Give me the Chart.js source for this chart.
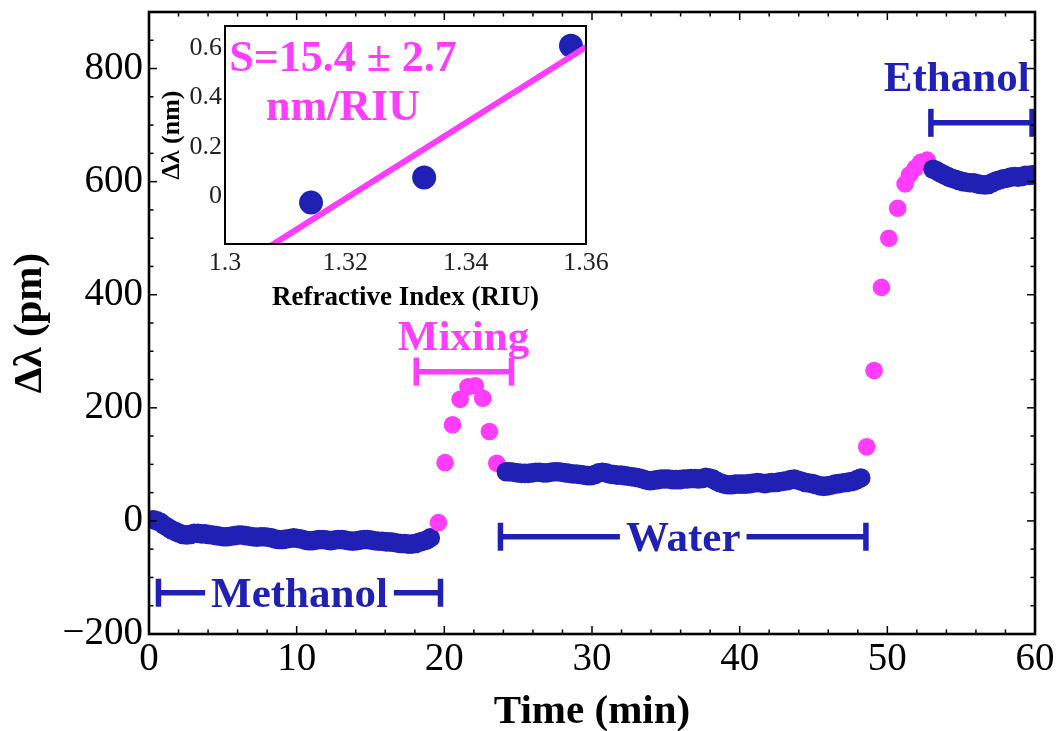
<!DOCTYPE html>
<html>
<head>
<meta charset="utf-8">
<script src="https://cdn.jsdelivr.net/npm/chart.js@4.4.1/dist/chart.umd.min.js"></script>
<style>
  html, body { margin: 0; padding: 0; background: #fff; }
  #wrap { position: relative; width: 1057px; height: 731px; }
  #main { position: absolute; left: 0; top: 0; }
  #inset { position: absolute; left: 150px; top: 14px; }
</style>
</head>
<body>
<div id="wrap">
  <canvas id="main" width="1057" height="731"></canvas>
  <canvas id="inset" width="470" height="300"></canvas>
</div>
<script>
// ---- Resonance shift vs. time (pm) ----
const methanolTime = [0.3, 0.55, 0.8, 1.05, 1.3, 1.55, 1.8, 2.05, 2.3, 2.55, 2.8, 3.05, 3.3, 3.55, 3.8, 4.05, 4.3, 4.55,
  4.8, 5.05, 5.3, 5.55, 5.8, 6.05, 6.3, 6.55, 6.8, 7.05, 7.3, 7.55, 7.8, 8.05, 8.3, 8.55, 8.8, 9.05, 9.3, 9.55, 9.8,
  10.05, 10.3, 10.55, 10.8, 11.05, 11.3, 11.55, 11.8, 12.05, 12.3, 12.55, 12.8, 13.05, 13.3, 13.55, 13.8, 14.05, 14.3,
  14.55, 14.8, 15.05, 15.3, 15.55, 15.8, 16.05, 16.3, 16.55, 16.8, 17.05, 17.3, 17.55, 17.8, 18.05, 18.3, 18.55, 18.8,
  19.05];
const methanolShift = [2, 0, -3, -8, -12, -16, -19, -22, -24, -25, -24, -22, -22, -23, -23, -24, -25, -26,
  -27, -28, -28, -27, -26, -25, -25, -26, -27, -28, -29, -28, -28, -29, -30, -32, -33, -33, -32, -31, -30,
  -31, -32, -34, -35, -35, -34, -33, -33, -34, -35, -34, -33, -33, -34, -35, -36, -35, -34,
  -33, -33, -34, -35, -36, -36, -37, -37, -38, -39, -40, -40, -41, -41, -40, -38, -36, -34,
  -30];

const mixingTime = [19.6, 20.05, 20.55, 21.07, 21.6, 22.1, 22.6, 23.05, 23.55];
const mixingShift = [-3, 103, 170, 215, 237, 239, 217, 158, 102];

const waterTime = [24.2, 24.45, 24.7, 24.95, 25.2, 25.45, 25.7, 25.95, 26.2, 26.45, 26.7, 26.95, 27.2, 27.45, 27.7,
  27.95, 28.2, 28.45, 28.7, 28.95, 29.2, 29.45, 29.7, 29.95, 30.2, 30.45, 30.7, 30.95, 31.2, 31.45, 31.7, 31.95, 32.2,
  32.45, 32.7, 32.95, 33.2, 33.45, 33.7, 33.95, 34.2, 34.45, 34.7, 34.95, 35.2, 35.45, 35.7, 35.95, 36.2, 36.45, 36.7,
  36.95, 37.2, 37.45, 37.7, 37.95, 38.2, 38.45, 38.7, 38.95, 39.2, 39.45, 39.7, 39.95, 40.2, 40.45, 40.7, 40.95, 41.2,
  41.45, 41.7, 41.95, 42.2, 42.45, 42.7, 42.95, 43.2, 43.45, 43.7, 43.95, 44.2, 44.45, 44.7, 44.95, 45.2, 45.45, 45.7,
  45.95, 46.2, 46.45, 46.7, 46.95, 47.2, 47.45, 47.7, 47.95, 48.2];
const waterShift = [87, 87, 86, 85, 84, 84, 84, 85, 86, 86, 85, 85, 86, 87, 87,
  86, 85, 84, 83, 83, 82, 81, 80, 80, 82, 85, 86, 85, 83, 82, 81, 81, 80,
  79, 78, 77, 76, 74, 72, 71, 72, 73, 74, 74, 74, 73, 73, 73, 74, 74, 75,
  75, 74, 75, 77, 76, 74, 70, 67, 65, 64, 64, 65, 65, 65, 65, 66, 67, 68,
  67, 66, 67, 68, 68, 69, 70, 71, 73, 74, 72, 70, 68, 67, 66, 64, 62, 61,
  62, 63, 65, 66, 67, 68, 69, 70, 73, 76];

const riseTime = [48.6, 49.1, 49.6, 50.1, 50.7, 51.2, 51.5, 51.9, 52.25, 52.7];
const riseShift = [131, 266, 413, 500, 553, 596, 612, 624, 634, 638];

const ethanolTime = [53.1, 53.35, 53.6, 53.85, 54.1, 54.35, 54.6, 54.85, 55.1, 55.35, 55.6, 55.85, 56.1, 56.35, 56.6,
  56.85, 57.1, 57.35, 57.6, 57.85, 58.1, 58.35, 58.6, 58.85, 59.1, 59.35, 59.6, 59.85, 60.0];
const ethanolShift = [622, 619, 615, 612, 609, 606, 604, 602, 600, 599, 598, 598, 596, 595, 594,
  595, 598, 601, 603, 605, 606, 608, 609, 608, 609, 611, 611, 612, 612];

const timeTicks = [0, 10, 20, 30, 40, 50, 60];
const shiftTicks = [-200, 0, 200, 400, 600, 800];
const shiftTickLabels = ['\u2212200', '0', '200', '400', '600', '800'];

// solvent phases (minutes)
const phaseNames = ['Methanol', 'Mixing', 'Water', 'Ethanol'];
const phaseStart = [0.64, 18.1, 23.8, 52.95];
const phaseEnd = [19.74, 24.55, 48.55, 59.8];

// ---- Calibration inset ----
const riuValues = [1.3143, 1.3331, 1.3575];
const riuShift = [-0.027, 0.075, 0.61];
const fitSlope = 15.4;
const fitSlopeError = 2.7;
const riuTicks = [1.3, 1.32, 1.34, 1.36];
const riuTickLabels = ['1.3', '1.32', '1.34', '1.36'];
const nmTicks = [0, 0.2, 0.4, 0.6];
const nmTickLabels = ['0', '0.2', '0.4', '0.6'];

const NAVY = '#2020b4';
const MAGENTA = '#ff3cff';
const SERIF = '"Liberation Serif", "Times New Roman", serif';

const pairs = (xs, ys) => xs.map((x, i) => ({ x, y: ys[i] }));

// placement of the phase brackets and their captions
const phaseLayout = [
  { level: -127, inline: true, color: NAVY },
  { level: 264, inline: false, labelTime: 21.3, labelLevel: 303, color: MAGENTA },
  { level: -28, inline: true, color: NAVY },
  { level: 704, inline: false, labelTime: 54.7, labelLevel: 760, color: NAVY }
];

const frameTicks = {
  id: 'frameTicks',
  afterDraw(chart) {
    const { ctx, chartArea: a, scales: { x, y } } = chart;
    const seg = (x0, y0, x1, y1) => { ctx.beginPath(); ctx.moveTo(x0, y0); ctx.lineTo(x1, y1); ctx.stroke(); };
    ctx.save();
    ctx.strokeStyle = '#000';
    ctx.lineWidth = 1.5;
    for (let i = 0; i <= 30; i++) {
      const t = i * 2;
      const px = x.getPixelForValue(t);
      const len = (t % 10 === 0) ? 8 : 4.5;
      seg(px, a.bottom, px, a.bottom - len);
      seg(px, a.top, px, a.top + len);
    }
    for (let i = 0; i <= 22; i++) {
      const v = -200 + i * 50;
      const py = y.getPixelForValue(v);
      const len = (v % 200 === 0) ? 8 : 4.5;
      seg(a.left, py, a.left + len, py);
      seg(a.right, py, a.right - len, py);
    }
    ctx.lineWidth = 2.6;
    ctx.strokeRect(a.left, a.top, a.width, a.height);
    ctx.restore();
  }
};

const phaseMarkers = {
  id: 'phaseMarkers',
  afterDatasetsDraw(chart) {
    const { ctx, scales: { x, y } } = chart;
    const seg = (x0, y0, x1, y1) => { ctx.beginPath(); ctx.moveTo(x0, y0); ctx.lineTo(x1, y1); ctx.stroke(); };
    ctx.save();
    ctx.font = `bold 43px ${SERIF}`;
    ctx.lineCap = 'butt';
    phaseNames.forEach((name, i) => {
      const st = phaseLayout[i];
      const x0 = x.getPixelForValue(phaseStart[i]);
      const x1 = x.getPixelForValue(phaseEnd[i]);
      const yy = y.getPixelForValue(st.level);
      ctx.strokeStyle = st.color;
      ctx.fillStyle = st.color;
      ctx.lineWidth = 5.5;
      seg(x0, yy - 14, x0, yy + 14);
      seg(x1, yy - 14, x1, yy + 14);
      ctx.textAlign = 'center';
      ctx.textBaseline = 'alphabetic';
      if (st.inline) {
        const w = ctx.measureText(name).width;
        const cx = (x0 + x1) / 2;
        seg(x0, yy, cx - w / 2 - 6, yy);
        seg(cx + w / 2 + 6, yy, x1, yy);
        ctx.fillText(name, cx, yy + 14);
      } else {
        seg(x0, yy, x1, yy);
        ctx.fillText(name, x.getPixelForValue(st.labelTime), y.getPixelForValue(st.labelLevel));
      }
    });
    ctx.restore();
  }
};

const dot = (data, color, radius, order) => ({
  data, backgroundColor: color, borderWidth: 0, pointRadius: radius, pointHoverRadius: radius, order
});

new Chart(document.getElementById('main'), {
  type: 'scatter',
  data: {
    datasets: [
      dot(pairs(methanolTime, methanolShift), NAVY, 9.8, 5),
      dot(pairs(mixingTime, mixingShift), MAGENTA, 8.8, 4),
      dot(pairs(waterTime, waterShift), NAVY, 9.8, 3),
      dot(pairs(riseTime, riseShift), MAGENTA, 8.8, 2),
      dot(pairs(ethanolTime, ethanolShift), NAVY, 9.8, 1)
    ]
  },
  options: {
    responsive: false,
    animation: false,
    devicePixelRatio: 1,
    layout: { padding: { top: 12, right: 22, left: 0, bottom: 0 } },
    plugins: { legend: { display: false }, tooltip: { enabled: false } },
    scales: {
      x: {
        type: 'linear', min: 0, max: 60,
        afterBuildTicks: s => { s.ticks = timeTicks.map(v => ({ value: v })); },
        afterFit: s => { s.height = 97; s.paddingLeft = 0; s.paddingRight = 0; },
        grid: { display: false, drawTicks: false },
        border: { display: false },
        ticks: {
          color: '#000', padding: 2, maxRotation: 0, autoSkip: false,
          font: { family: SERIF, size: 39, lineHeight: 1.2 },
          callback: v => String(v)
        },
        title: {
          display: true, text: 'Time (min)', color: '#000',
          font: { family: SERIF, size: 41, weight: 'bold', lineHeight: 0.9 },
          padding: { top: 0, bottom: 0 }
        }
      },
      y: {
        type: 'linear', min: -200, max: 900,
        afterBuildTicks: s => { s.ticks = shiftTicks.map(v => ({ value: v })); },
        afterFit: s => { s.width = 149; s.paddingTop = 0; s.paddingBottom = 0; },
        grid: { display: false, drawTicks: false },
        border: { display: false },
        ticks: {
          color: '#000', padding: 6, autoSkip: false,
          font: { family: SERIF, size: 39, lineHeight: 1.2 },
          callback: v => shiftTickLabels[shiftTicks.indexOf(v)]
        },
        title: {
          display: true, text: '\u0394\u03bb (pm)', color: '#000',
          font: { family: SERIF, size: 41, weight: 'bold', lineHeight: 1.2 },
          padding: { top: 6, bottom: 0 }
        }
      }
    }
  },
  plugins: [phaseMarkers, frameTicks]
});

// ---- inset: shift vs refractive index with linear fit ----
const cx = riuValues.reduce((s, v) => s + v, 0) / riuValues.length;
const cy = riuShift.reduce((s, v) => s + v, 0) / riuShift.length;
const fitLine = [riuTicks[0], riuTicks[riuTicks.length - 1]]
  .map(x => ({ x, y: cy + fitSlope * (x - cx) }));

const insetFrame = {
  id: 'insetFrame',
  afterDraw(chart) {
    const { ctx, chartArea: a } = chart;
    ctx.save();
    ctx.strokeStyle = '#000';
    ctx.lineWidth = 2;
    ctx.strokeRect(a.left, a.top, a.width, a.height);
    ctx.fillStyle = MAGENTA;
    ctx.font = `bold 44px ${SERIF}`;
    ctx.textAlign = 'center';
    ctx.textBaseline = 'alphabetic';
    const mid = a.left + 118;
    ctx.fillText(`S=${fitSlope} \u00b1 ${fitSlopeError}`, mid, a.top + 45);
    ctx.fillText('nm/RIU', mid, a.top + 94);
    ctx.restore();
  }
};

new Chart(document.getElementById('inset'), {
  type: 'scatter',
  data: {
    datasets: [
      { data: fitLine, showLine: true, borderColor: MAGENTA, borderWidth: 6, pointRadius: 0, order: 0 },
      { data: pairs(riuValues, riuShift), backgroundColor: NAVY, borderWidth: 0, pointRadius: 12, pointHoverRadius: 12, order: 1 }
    ]
  },
  options: {
    responsive: false,
    animation: false,
    devicePixelRatio: 1,
    layout: { padding: { top: 7, right: 34, left: 0, bottom: 0 } },
    plugins: { legend: { display: false }, tooltip: { enabled: false } },
    scales: {
      x: {
        type: 'linear', min: 1.3, max: 1.36,
        afterBuildTicks: s => { s.ticks = riuTicks.map(v => ({ value: v })); },
        afterFit: s => { s.height = 70; s.paddingLeft = 0; s.paddingRight = 0; },
        grid: { display: false, drawTicks: false },
        border: { display: false },
        ticks: {
          color: '#222', padding: 4, maxRotation: 0, autoSkip: false,
          font: { family: SERIF, size: 26, lineHeight: 1.2 },
          callback: v => riuTickLabels[riuTicks.indexOf(v)]
        },
        title: {
          display: true, text: 'Refractive Index (RIU)', color: '#000',
          font: { family: SERIF, size: 27, weight: 'bold', lineHeight: 1.2 },
          padding: { top: 0, bottom: 0 }
        }
      },
      y: {
        type: 'linear', min: -0.195, max: 0.69,
        afterBuildTicks: s => { s.ticks = nmTicks.map(v => ({ value: v })); },
        afterFit: s => { s.width = 75; s.paddingTop = 0; s.paddingBottom = 0; },
        grid: { display: false, drawTicks: false },
        border: { display: false },
        ticks: {
          color: '#222', padding: 3, autoSkip: false,
          font: { family: SERIF, size: 26, lineHeight: 1.2 },
          callback: v => nmTickLabels[nmTicks.indexOf(v)]
        },
        title: {
          display: true, text: '\u0394\u03bb (nm)', color: '#000',
          font: { family: SERIF, size: 26, weight: 'bold', lineHeight: 1.2 },
          padding: { top: 7, bottom: 0 }
        }
      }
    }
  },
  plugins: [insetFrame]
});
</script>
</body>
</html>
